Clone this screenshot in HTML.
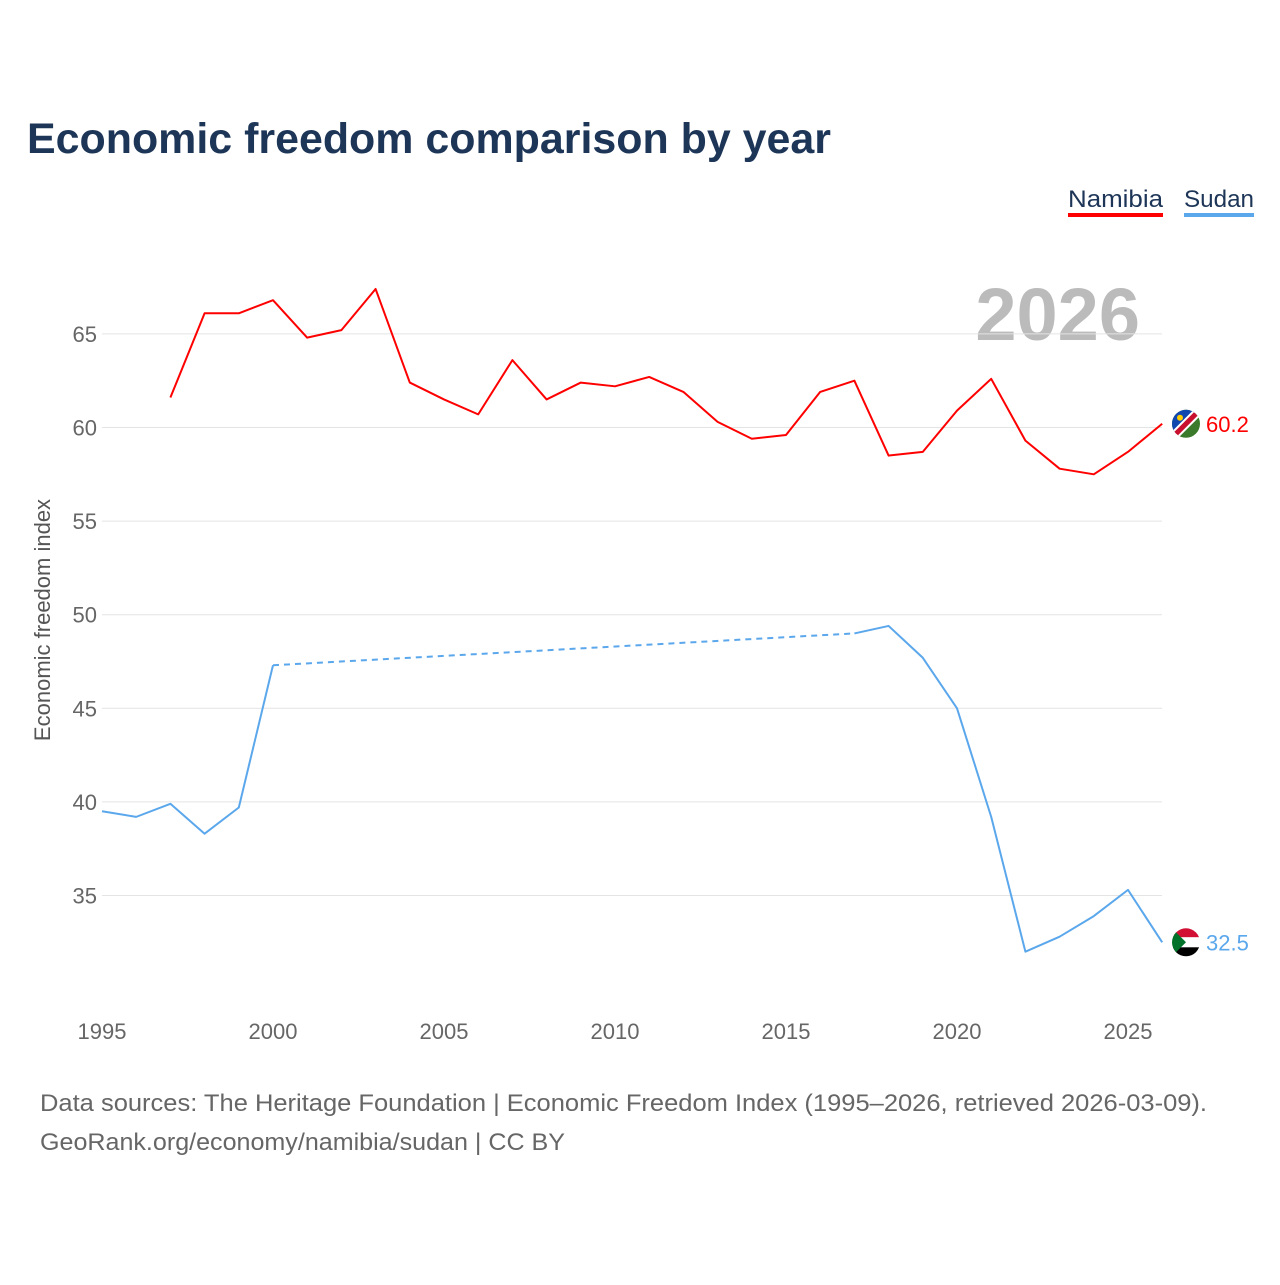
<!DOCTYPE html>
<html><head><meta charset="utf-8"><style>
body{margin:0;width:1280px;height:1280px;background:#fff;font-family:"Liberation Sans",sans-serif;overflow:hidden}
svg text{font-family:"Liberation Sans",sans-serif}
</style></head><body>
<svg id="c" width="1280" height="1280">
<text x="27" y="153" font-size="43" font-weight="bold" fill="#1d3557" textLength="804" lengthAdjust="spacingAndGlyphs">Economic freedom comparison by year</text>
<g><text x="1068" y="207" font-size="24" fill="#1d3557" textLength="95" lengthAdjust="spacingAndGlyphs">Namibia</text><rect x="1068" y="213" width="95" height="4" fill="#ff0000"/></g>
<g><text x="1184" y="207" font-size="24" fill="#1d3557" textLength="70" lengthAdjust="spacingAndGlyphs">Sudan</text><rect x="1184" y="213" width="70" height="4" fill="#5ba7ec"/></g>
<text x="1140" y="340" text-anchor="end" font-size="74" font-weight="bold" fill="#bbbbbb">2026</text>
<text transform="translate(50,620) rotate(-90)" text-anchor="middle" font-size="22" fill="#555">Economic freedom index</text>
<g id="grid"></g><g id="series"></g>
<text x="40" y="1111" font-size="24" fill="#666" textLength="1167" lengthAdjust="spacingAndGlyphs">Data sources: The Heritage Foundation | Economic Freedom Index (1995–2026, retrieved 2026-03-09).</text>
<text x="40" y="1150" font-size="24" fill="#666" textLength="525" lengthAdjust="spacingAndGlyphs">GeoRank.org/economy/namibia/sudan | CC BY</text>
</svg>
<script>
const years=[1995,1996,1997,1998,1999,2000,2001,2002,2003,2004,2005,2006,2007,2008,2009,2010,2011,2012,2013,2014,2015,2016,2017,2018,2019,2020,2021,2022,2023,2024,2025,2026];
const namibia=[null,null,61.6,66.1,66.1,66.8,64.8,65.2,67.4,62.4,61.5,60.7,63.6,61.5,62.4,62.2,62.7,61.9,60.3,59.4,59.6,61.9,62.5,58.5,58.7,60.9,62.6,59.3,57.8,57.5,58.7,60.2];
const sudan=[39.5,39.2,39.9,38.3,39.7,47.3,null,null,null,null,null,null,null,null,null,null,null,null,null,null,null,null,49.0,49.4,47.7,45.0,39.2,32.0,32.8,33.9,35.3,32.5];
const yTicks=[35,40,45,50,55,60,65];
const xTicks=[1995,2000,2005,2010,2015,2020,2025];
const NS="http://www.w3.org/2000/svg";
const X=y=>102+(y-1995)*34.2;
const Y=v=>427.5-(v-60)*18.72;
function mk(t,a,p){const e=document.createElementNS(NS,t);for(const k in a)e.setAttribute(k,a[k]);p.appendChild(e);return e;}
const g=document.getElementById('grid'),s=document.getElementById('series');
yTicks.forEach(v=>{
 const l=mk('line',{x1:102,x2:1162,y1:Y(v),y2:Y(v),stroke:'#e4e4e4','stroke-width':1},g);
 
 
 const t=mk('text',{x:97,y:Y(v)+8,'text-anchor':'end','font-size':22,fill:'#666'},g);t.textContent=v;
 
 
});
xTicks.forEach(v=>{
 const t=mk('text',{x:X(v),y:1039,'text-anchor':'middle','font-size':22,fill:'#666'},g);t.textContent=v;
 
 
});
function draw(vals,color,name){
 let prev=null;
 const solid=[];let cur=[];
 vals.forEach((v,i)=>{
  if(v==null){ if(cur.length){solid.push(cur);cur=[];} return;}
  if(prev!=null && prev.i<i-1){
   const d=mk('line',{x1:X(years[prev.i]),y1:Y(prev.v),x2:X(years[i]),y2:Y(v),stroke:color,'stroke-width':2,'stroke-dasharray':'6,5'},s);
   
   
  }
  cur.push(X(years[i])+','+Y(v));prev={i,v};
 });
 if(cur.length)solid.push(cur);
 solid.forEach(c=>{const p=mk('polyline',{points:c.join(' '),fill:'none',stroke:color,'stroke-width':2,'stroke-linejoin':'round'},s);
  
  });
 const last=vals[vals.length-1];
 const t=mk('text',{x:1206,y:Y(last)+8,'font-size':22,fill:color},s);t.textContent=last.toFixed(1);
 
 
 return Y(last);
}
const yn=draw(namibia,'#ff0000','namibia');
const ys=draw(sudan,'#5ba7ec','sudan');
const fn=mk('g',{},s);
mk('clipPath',{id:'cn'},fn).appendChild(document.createElementNS(NS,'circle')).setAttribute('r',14);
const fg=mk('g',{transform:`translate(1186,${yn})`,'clip-path':'url(#cn)'},fn);
mk('rect',{x:-15,y:-15,width:30,height:30,fill:'#3b7a2a'},fg);
mk('polygon',{points:'-15,-15 15,-15 -15,15',fill:'#0f47af'},fg);
mk('line',{x1:-15,y1:15,x2:15,y2:-15,stroke:'#fff','stroke-width':9},fg);
mk('line',{x1:-15,y1:15,x2:15,y2:-15,stroke:'#c8102e','stroke-width':5},fg);
mk('circle',{cx:-6,cy:-6,r:3,fill:'#ffce00'},fg);
const fs=mk('g',{},s);
mk('clipPath',{id:'cs'},fs).appendChild(document.createElementNS(NS,'circle')).setAttribute('r',14);
const sg=mk('g',{transform:`translate(1186,${ys})`,'clip-path':'url(#cs)'},fs);
mk('rect',{x:-15,y:-15,width:30,height:10,fill:'#d21034'},sg);
mk('rect',{x:-15,y:-5,width:30,height:10,fill:'#fff'},sg);
mk('rect',{x:-15,y:5,width:30,height:10,fill:'#000'},sg);
mk('polygon',{points:'-15,-15 0,0 -15,15',fill:'#007229'},sg);
</script>
</body></html>
